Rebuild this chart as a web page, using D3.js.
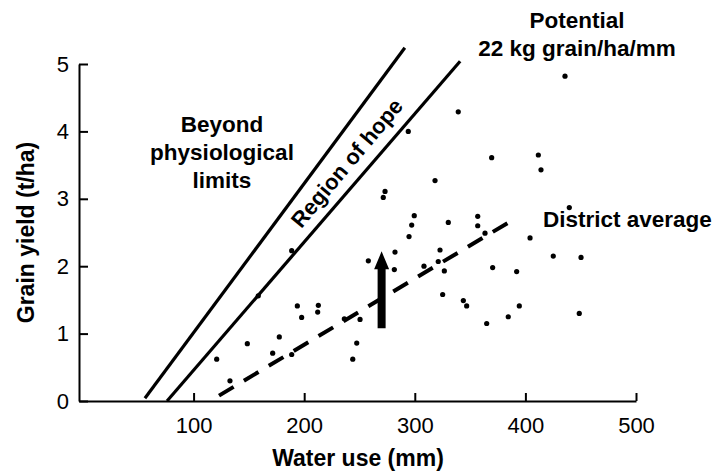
<!DOCTYPE html>
<html><head><meta charset="utf-8">
<script src="https://cdn.jsdelivr.net/npm/d3@7"></script>
<style>
html,body{margin:0;padding:0;background:#fff;}
svg text{font-family:"Liberation Sans",Arial,Helvetica,sans-serif;fill:#000;}
</style></head>
<body><svg id="c" width="726" height="472"></svg>
<script>
// ---- data ----
const waterUse = [188.7,158.5,193.8,212.8,197.7,212.2,236.3,250.5,177.5,148.6,171.5,188.7,120.9,132.9,247.5,243.9,
  258.0,273.1,271.5,294.1,339.3,282.1,281.5,294.8,297.2,299.5,318.3,308.3,321.2,322.8,326.7,325.2,330.3,356.9,356.9,
  363.5,369.5,370.4,343.9,346.9,365.0,384.5,394.5,392.1,404.2,411.7,414.1,425.2,439.7,450.3,448.7,435.8];
const grainYield = [2.23,1.56,1.41,1.42,1.24,1.32,1.22,1.21,0.95,0.85,0.71,0.69,0.62,0.30,0.86,0.62,
  2.08,3.11,3.02,4.00,4.29,2.21,1.95,2.44,2.61,2.75,3.27,2.00,2.07,2.24,1.93,1.58,2.65,2.74,2.60,
  2.49,3.61,1.98,1.49,1.41,1.15,1.25,1.41,1.92,2.42,3.65,3.43,2.15,2.87,2.13,1.30,4.82];
const xTicks = [100,200,300,400,500];
const yTicks = [0,1,2,3,4,5];
const limitLineX = [56, 291], limitLineY = [0.04, 5.24];
const potentialLineX = [76, 341], potentialLineY = [0.0, 5.04];
const districtX = [123, 391], districtY = [0.08, 2.71];
const arrowX = 270, arrowY = [1.08, 2.22];

// ---- chart ----
const svg = d3.select("#c");
const x = d3.scaleLinear().domain([-3.6, 500]).range([79, 636]);
const y = d3.scaleLinear().domain([0, 5]).range([401, 64]);

const xAxis = svg.append("g").attr("transform", `translate(0,${y(0)})`)
  .call(d3.axisBottom(x).tickValues(xTicks).tickFormat(d3.format("d")).tickSize(-8).tickSizeOuter(0).tickPadding(16));
const yAxis = svg.append("g").attr("transform", `translate(${x.range()[0]},0)`)
  .call(d3.axisLeft(y).tickValues(yTicks).tickFormat(d3.format("d")).tickSize(-9).tickSizeOuter(0).tickPadding(10));
[xAxis, yAxis].forEach(g => {
  g.selectAll("path,line").attr("stroke", "#000").attr("stroke-width", 2);
  g.selectAll("text").attr("font-size", 22).attr("fill", "#000")
   .style("font-family", '"Liberation Sans",Arial,sans-serif');
});

const line = d3.line().x(d => x(d[0])).y(d => y(d[1]));
function seg(xs, ys) { return xs.map((v, i) => [v, ys[i]]); }
svg.append("path").attr("d", line(seg(limitLineX, limitLineY)))
  .attr("stroke", "#000").attr("stroke-width", 3.2).attr("fill", "none");
svg.append("path").attr("d", line(seg(potentialLineX, potentialLineY)))
  .attr("stroke", "#000").attr("stroke-width", 3.2).attr("fill", "none");
svg.append("path").attr("d", line(seg(districtX, districtY)))
  .attr("stroke", "#000").attr("stroke-width", 4).attr("stroke-dasharray", "17,12").attr("fill", "none");

svg.append("g").selectAll("circle").data(waterUse).join("circle")
  .attr("cx", d => x(d)).attr("cy", (d, i) => y(grainYield[i])).attr("r", 2.6).attr("fill", "#000");

// arrow
const ax = x(arrowX), ab = y(arrowY[0]), at = y(arrowY[1]);
const sw = 4, hw = 7.5, hl = 18;
svg.append("path").attr("fill", "#000")
  .attr("d", `M${ax - sw},${ab} L${ax - sw},${at + hl} L${ax - hw},${at + hl} L${ax},${at} L${ax + hw},${at + hl} L${ax + sw},${at + hl} L${ax + sw},${ab} Z`);

// texts
const ann = svg.append("g").attr("font-weight", "bold").attr("font-size", 22.5).attr("text-anchor", "middle");
[["Beyond", 222, 132], ["physiological", 222, 160], ["limits", 222, 188],
 ["Potential", 577, 28], ["22 kg grain/ha/mm", 577, 56]].forEach(t =>
  ann.append("text").attr("x", t[1]).attr("y", t[2]).text(t[0]));
ann.append("text").attr("x", 543).attr("y", 227).attr("text-anchor", "start").text("District average");
ann.append("text").attr("transform", "translate(347,163) rotate(-50)")
  .attr("dominant-baseline", "central").attr("font-size", 22).text("Region of hope");

svg.append("text").attr("x", 358).attr("y", 466).attr("text-anchor", "middle")
  .attr("font-weight", "bold").attr("font-size", 23).text("Water use (mm)");
svg.append("text").attr("transform", `translate(34,${(y(0) + y(5)) / 2}) rotate(-90)`)
  .attr("text-anchor", "middle").attr("font-weight", "bold").attr("font-size", 23).text("Grain yield (t/ha)");
</script></body></html>
